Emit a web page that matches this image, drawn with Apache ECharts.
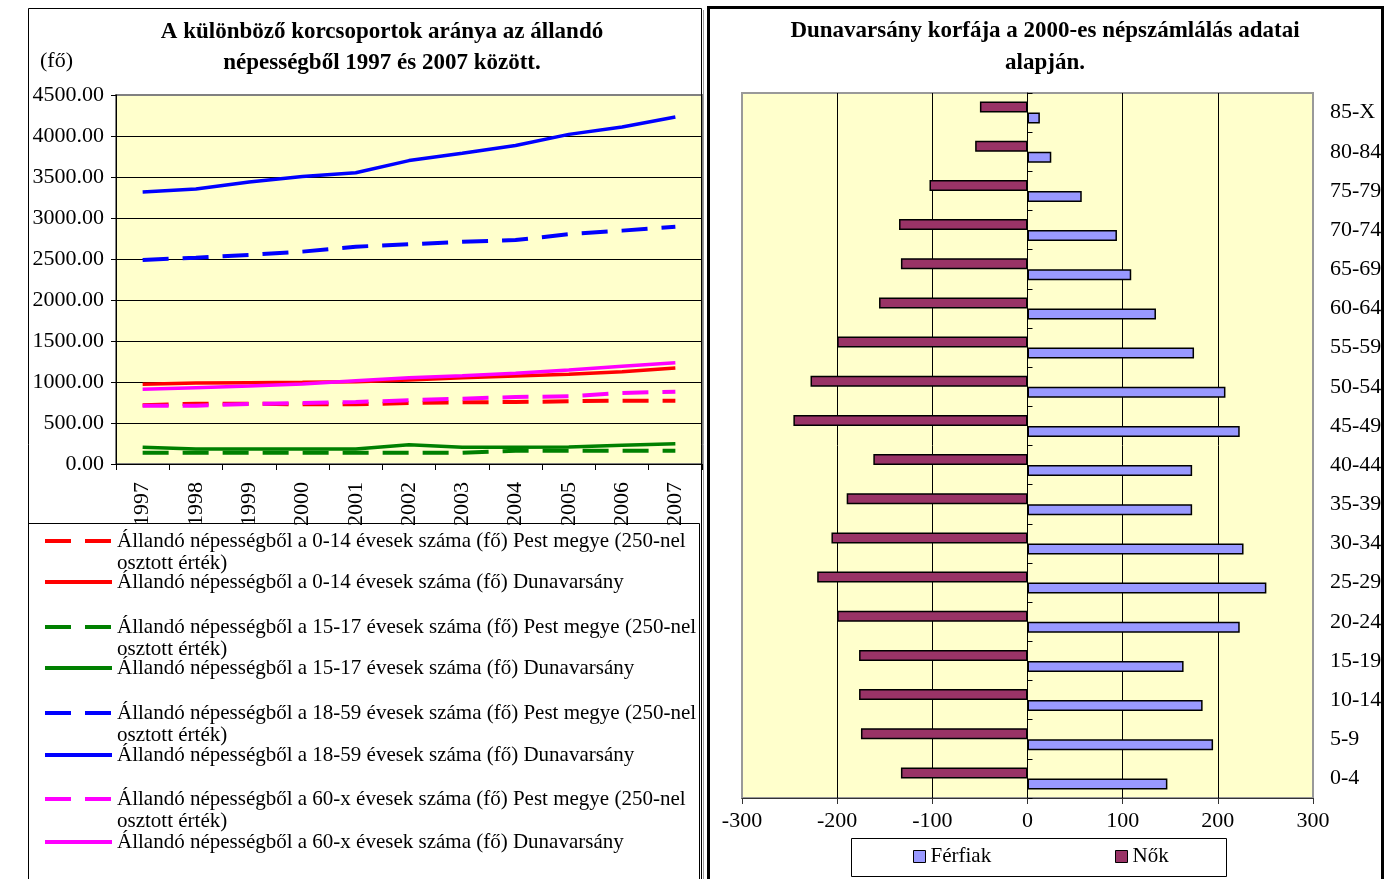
<!DOCTYPE html>
<html><head><meta charset="utf-8">
<script src="https://cdn.jsdelivr.net/npm/echarts@6/dist/echarts.min.js"></script>
<style>html,body{margin:0;padding:0;background:#fff}#c{width:1386px;height:879px}</style>
</head><body><div id="c"></div>
<script>
// ---------- Left chart data ----------
const years = ['1997','1998','1999','2000','2001','2002','2003','2004','2005','2006','2007'];
const pest014  = [716, 736, 735, 728, 728, 744, 752, 756, 765, 772, 772];
const duna014  = [972, 988, 992, 996, 1004, 1025, 1053, 1073, 1094, 1126, 1171];
const pest1517 = [138, 138, 138, 138, 138, 138, 138, 162, 162, 162, 162];
const duna1517 = [204, 183, 183, 183, 183, 236, 204, 204, 206, 228, 248];
const pest1859 = [2488, 2516, 2550, 2590, 2650, 2680, 2710, 2732, 2802, 2846, 2894];
const duna1859 = [3317, 3354, 3440, 3505, 3552, 3700, 3790, 3885, 4020, 4110, 4232];
const pest60x  = [711, 711, 732, 745, 756, 777, 797, 817, 826, 866, 882];
const duna60x  = [911, 931, 951, 976, 1016, 1053, 1077, 1106, 1146, 1191, 1235];
const lineNames = [
  'Állandó népességből a 0-14 évesek száma (fő) Pest megye (250-nel osztott érték)',
  'Állandó népességből a 0-14 évesek száma (fő) Dunavarsány',
  'Állandó népességből a 15-17 évesek száma (fő) Pest megye (250-nel osztott érték)',
  'Állandó népességből a 15-17 évesek száma (fő) Dunavarsány',
  'Állandó népességből a 18-59 évesek száma (fő) Pest megye (250-nel osztott érték)',
  'Állandó népességből a 18-59 évesek száma (fő) Dunavarsány',
  'Állandó népességből a 60-x évesek száma (fő) Pest megye (250-nel osztott érték)',
  'Állandó népességből a 60-x évesek száma (fő) Dunavarsány'
];
const lineData = [pest014, duna014, pest1517, duna1517, pest1859, duna1859, pest60x, duna60x];
const lineColors = ['#FF0000','#FF0000','#008000','#008000','#0000FF','#0000FF','#FF00FF','#FF00FF'];
const lineDashed = [true,false,true,false,true,false,true,false];

// ---------- Right chart data ----------
const ageGroups = ['0-4','5-9','10-14','15-19','20-24','25-29','30-34','35-39','40-44','45-49','50-54','55-59','60-64','65-69','70-74','75-79','80-84','85-X'];
const ferfiak = [147, 195, 184, 164, 223, 251, 227, 173, 173, 223, 208, 175, 135, 109, 94, 57, 25, 13];
const nok = [-133, -175, -177, -177, -200, -221, -206, -190, -162, -246, -228, -200, -156, -133, -135, -103, -55, -50];

const SERIF = '"Liberation Serif", "Times New Roman", serif';
const chart = echarts.init(document.getElementById('c'), null, {renderer: 'canvas'});

const legendIconY = [541, 582, 627, 668, 713, 755, 799, 842];
function splitName(name) {
  const i = name.indexOf(' osztott');
  return i > 0 ? '\n' + name.slice(0, i) + '\n' + name.slice(i + 1) : name;
}
const leftLegends = lineNames.map((n, i) => ({
  data: [n],
  orient: 'vertical',
  left: 43,
  top: lineDashed[i] ? legendIconY[i] - 33 : legendIconY[i] - 11,
  padding: 0,
  itemWidth: 67,
  itemHeight: 14,
  selectedMode: false,
  lineStyle: {width: 4},
  itemStyle: {color: 'rgba(0,0,0,0)', borderWidth: 0, opacity: 0},
  formatter: splitName,
  textStyle: {fontFamily: SERIF, fontSize: 21, color: '#000', lineHeight: 22}
}));

const lineSeries = lineNames.map((n, i) => ({
  name: n,
  type: 'line',
  xAxisIndex: 0, yAxisIndex: 0,
  data: lineData[i],
  symbol: 'none',
  showSymbol: false,
  smooth: false,
  lineStyle: {color: lineColors[i], width: lineDashed[i] ? 4 : 3.5, type: lineDashed[i] ? [26, 14] : 'solid'},
  itemStyle: {color: lineColors[i]},
  z: 3
}));

const option = {
  backgroundColor: '#ffffff',
  animation: false,
  title: [
    {text: 'A különböző korcsoportok aránya az állandó\nnépességből 1997 és 2007 között.', left: 382, top: 17, padding: 0, textAlign: 'center',
     textStyle: {fontFamily: SERIF, fontSize: 23, fontWeight: 'bold', color: '#000', lineHeight: 31}},
    {text: '(fő)', left: 40, top: 50, padding: 0, textStyle: {fontFamily: SERIF, fontSize: 22, fontWeight: 'normal', color: '#000'}},
    {text: 'Dunavarsány korfája a 2000-es népszámlálás adatai\nalapján.', left: 1045, top: 15, padding: 0, textAlign: 'center',
     textStyle: {fontFamily: SERIF, fontSize: 23, fontWeight: 'bold', color: '#000', lineHeight: 32}}
  ],
  legend: leftLegends.concat([
    {data: ['Férfiak'], left: 913, top: 846, padding: 0, itemWidth: 12, itemHeight: 12, icon: 'rect', selectedMode: false,
     itemStyle: {borderColor: '#000', borderWidth: 1},
     textStyle: {fontFamily: SERIF, fontSize: 21, color: '#000'}},
    {data: ['Nők'], left: 1115, top: 846, padding: 0, itemWidth: 12, itemHeight: 12, icon: 'rect', selectedMode: false,
     itemStyle: {borderColor: '#000', borderWidth: 1},
     textStyle: {fontFamily: SERIF, fontSize: 21, color: '#000'}}
  ]),
  grid: [
    {left: 116, top: 95, right: 1386 - 702, bottom: 879 - 464, show: true, backgroundColor: '#FFFFCC', borderColor: '#808080', borderWidth: 2},
    {left: 742, top: 93, right: 1386 - 1313, bottom: 879 - 798, show: true, backgroundColor: '#FFFFCC', borderColor: '#999999', borderWidth: 2}
  ],
  xAxis: [
    {type: 'category', gridIndex: 0, data: years, boundaryGap: true,
     axisLine: {lineStyle: {color: '#000', width: 1}},
     axisTick: {show: true, length: 6, interval: 0, lineStyle: {color: '#000'}},
     axisLabel: {rotate: 90, interval: 0, margin: 18, fontFamily: SERIF, fontSize: 22, color: '#000'},
     splitLine: {show: false}},
    {type: 'value', gridIndex: 1, min: -300, max: 300, interval: 100,
     axisLine: {show: true, onZero: false, lineStyle: {color: '#333', width: 1}},
     axisTick: {show: true, length: 6, lineStyle: {color: '#333'}},
     axisLabel: {margin: 12, fontFamily: SERIF, fontSize: 22, color: '#000'},
     splitLine: {show: true, showMinLine: false, showMaxLine: false, lineStyle: {color: '#000', width: 1}}}
  ],
  yAxis: [
    {type: 'value', gridIndex: 0, min: 0, max: 4500, interval: 500,
     axisLine: {show: true, lineStyle: {color: '#000', width: 1}},
     axisTick: {show: true, length: 5, lineStyle: {color: '#000'}},
     axisLabel: {margin: 12, fontFamily: SERIF, fontSize: 22, color: '#000', formatter: v => v.toFixed(2)},
     splitLine: {show: true, showMaxLine: false, lineStyle: {color: '#000', width: 1}}},
    {type: 'category', gridIndex: 1, data: ageGroups, position: 'right',
     axisLine: {show: false, onZero: false},
     axisTick: {show: false},
     axisLabel: {margin: 17, align: 'left', fontFamily: SERIF, fontSize: 22, color: '#000'},
     splitLine: {show: false}},
    {type: 'category', gridIndex: 1, data: ageGroups, position: 'right',
     axisLine: {show: true, onZero: true, lineStyle: {color: '#000', width: 1}},
     axisTick: {show: true, length: 5, lineStyle: {color: '#000'}},
     axisLabel: {show: false},
     splitLine: {show: false}}
  ],
  graphic: [
    {type: 'rect', shape: {x: 28.5, y: 8.5, width: 673, height: 900}, style: {fill: null, stroke: '#000', lineWidth: 1}, z: 10, silent: true},
    {type: 'line', shape: {x1: 703.5, y1: 10, x2: 703.5, y2: 879}, style: {stroke: '#999', lineWidth: 1}, z: 10, silent: true},
    {type: 'rect', shape: {x: 28.5, y: 523.5, width: 671, height: 400}, style: {fill: null, stroke: '#000', lineWidth: 1}, z: 10, silent: true},
    {type: 'rect', shape: {x: 708.5, y: 7.5, width: 674, height: 900}, style: {fill: null, stroke: '#000', lineWidth: 3}, z: 10, silent: true},
    {type: 'rect', shape: {x: 851.5, y: 838.5, width: 375, height: 38}, style: {fill: '#fff', stroke: '#000', lineWidth: 1}, z: 1, silent: true}
  ],
  series: lineSeries.concat([
    {name: 'Nők', type: 'bar', xAxisIndex: 1, yAxisIndex: 1, data: nok, barWidth: 11, barGap: '0%',
     itemStyle: {color: '#993366', borderColor: '#000', borderWidth: 1.5}},
    {name: 'Férfiak', type: 'bar', xAxisIndex: 1, yAxisIndex: 1, data: ferfiak, barWidth: 11, barGap: '0%',
     itemStyle: {color: '#9999FF', borderColor: '#000', borderWidth: 1.5}}
  ])
};
chart.setOption(option);
</script>
</body></html>
